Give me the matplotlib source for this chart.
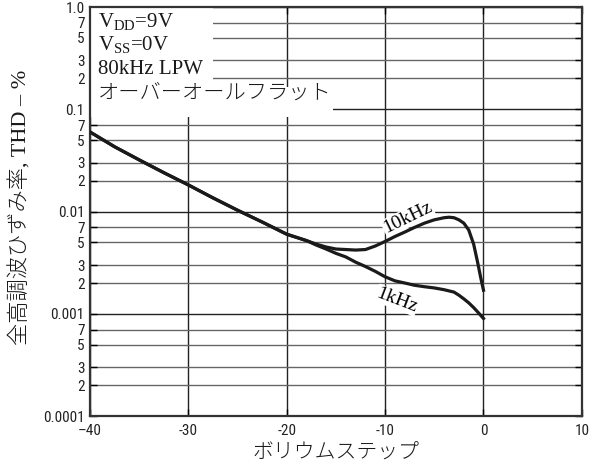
import matplotlib.pyplot as plt
import numpy as np
from matplotlib import font_manager
from matplotlib.patches import Rectangle
from matplotlib.ticker import FixedLocator

# ボリウムステップ (dB) と THD (%)
steps_10k = [-40, -37.5, -35, -32.5, -30, -27.5, -25, -22.5, -20, -18, -17, -16, -15,
             -14, -13, -12, -11, -10, -9, -8, -7, -6, -5, -4, -3.5, -3, -2.5, -2,
             -1.5, -1, -0.6, -0.3, 0]
thd_10k = [0.060, 0.043, 0.032, 0.024, 0.0182, 0.0136, 0.0103, 0.0079, 0.0060, 0.0052,
           0.0048, 0.0045, 0.0043, 0.00425, 0.0042, 0.00425, 0.0046, 0.0051, 0.0057,
           0.0063, 0.0070, 0.0077, 0.0083, 0.0087, 0.0088, 0.0087, 0.0083, 0.0077,
           0.0066, 0.0048, 0.0032, 0.0023, 0.0017]

steps_1k = [-40, -37.5, -35, -32.5, -30, -27.5, -25, -22.5, -20, -18, -17, -16, -15,
            -14, -13, -12, -11, -10, -9, -8, -7, -6, -5, -4, -3, -2.5, -2, -1.5, -1,
            -0.5, 0]
thd_1k = [0.060, 0.043, 0.032, 0.024, 0.0182, 0.0136, 0.0103, 0.0079, 0.0060, 0.0052,
          0.0047, 0.0043, 0.0039, 0.0036, 0.0032, 0.0029, 0.0026, 0.0023, 0.0021,
          0.00200, 0.00190, 0.00184, 0.00179, 0.00172, 0.00163, 0.00152, 0.00140,
          0.00128, 0.00115, 0.00102, 0.00090]

x_ticks = [-40, -30, -20, -10, 0, 10]
x_labels = ["–40", "-30", "-20", "-10", "0", "10"]
y_major = [1e-4, 1e-3, 1e-2, 1e-1, 1.0]
y_major_labels = ["0.0001", "0.001", "0.01", "0.1", "1.0"]
y_minor = [m * d for d in (1e-4, 1e-3, 1e-2, 1e-1) for m in (2, 3, 5, 7)]
y_minor_labels = ["2", "3", "5", "7"] * 4

conditions = ["V$_{\\mathrm{DD}}$=9V", "V$_{\\mathrm{SS}}$=0V", "80kHz LPW"]
flat_label = "オーバーオールフラット"


def pick_font(names, default):
    for n in names:
        try:
            font_manager.findfont(font_manager.FontProperties(family=n),
                                  fallback_to_default=False)
            return n, True
        except ValueError:
            continue
    return default, False


narrow, found = pick_font(["Liberation Sans Narrow", "Roboto Condensed",
                           "DejaVu Sans Condensed"], "Liberation Sans")
tick_font = [narrow, "DejaVu Sans"]
tick_size = 11 if found else 10

plt.rcParams["mathtext.fontset"] = "custom"
plt.rcParams["mathtext.rm"] = "Liberation Serif"
jp_font = ["Noto Sans CJK JP", "DejaVu Sans"]
serif_font = ["Liberation Serif", "Noto Sans CJK JP"]

fig = plt.figure(figsize=(5.98, 4.68), dpi=100)
ax = fig.add_axes([0.1505, 0.111, 0.8225, 0.874])
ax.set_axisbelow(True)

ax.set_xlim(-40, 10)
ax.set_yscale("log")
ax.set_ylim(1e-4, 1.0)

ax.set_xticks(x_ticks)
ax.set_xticklabels(x_labels, family=tick_font, fontsize=tick_size, color="#222")
ax.yaxis.set_major_locator(FixedLocator(y_major))
ax.set_yticklabels(y_major_labels, family=tick_font, fontsize=tick_size, color="#222")
ax.set_yticks(y_minor, minor=True)
ax.set_yticklabels(y_minor_labels, minor=True, family=tick_font, fontsize=tick_size,
                   color="#222")

ax.tick_params(which="both", direction="in", top=True, right=True, length=5, width=1)
ax.tick_params(axis="x", pad=6)
ax.tick_params(axis="y", which="both", pad=4)

ax.grid(True, which="major", color="#222", linewidth=1.0)
ax.grid(True, which="minor", axis="y", color="#666", linewidth=1.0)
for s in ax.spines.values():
    s.set_linewidth(1.6)
    s.set_color("#333")

# 条件テキストの背景 (グリッドを隠す)
ax.add_patch(Rectangle((0.0, 0.80), 0.25, 0.20, transform=ax.transAxes,
                       facecolor="white", edgecolor="none", zorder=1))
ax.add_patch(Rectangle((0.0, 0.73), 0.494, 0.075, transform=ax.transAxes,
                       facecolor="white", edgecolor="none", zorder=1))

ax.plot(steps_1k, thd_1k, color="#1a1a1a", linewidth=2.3, zorder=3)
ax.plot(steps_10k, thd_10k, color="#1a1a1a", linewidth=2.3, zorder=3)

ax.text(-7.7, 0.0087, "10kHz", family=serif_font, fontsize=14, rotation=26,
        ha="center", va="center", zorder=2,
        bbox=dict(facecolor="white", edgecolor="none", pad=0.5))
ax.text(-8.8, 0.00136, "1kHz", family=serif_font, fontsize=14, rotation=-21,
        ha="center", va="center", zorder=2,
        bbox=dict(facecolor="white", edgecolor="none", pad=0.5))

y_text = [0.963, 0.907, 0.847]
for t, yy in zip(conditions, y_text):
    ax.text(0.016, yy, t, transform=ax.transAxes, family=serif_font, fontsize=15,
            ha="left", va="center", color="#1a1a1a", zorder=4)
ax.text(0.016, 0.79, flat_label, transform=ax.transAxes, family=jp_font,
        fontsize=15.3, fontweight="light", ha="left", va="center", color="#1a1a1a",
        zorder=4)

ax.set_xlabel("ボリウムステップ", family=jp_font, fontsize=15, fontweight="light",
              color="#1a1a1a", labelpad=2)
ax.set_ylabel("全高調波ひずみ率, THD – %", family=["Liberation Serif", "Noto Sans CJK JP"],
              fontsize=16, fontweight="light", color="#1a1a1a")
ax.yaxis.set_label_coords(-0.118, 0.51)

fig.savefig("out.png", dpi=100)
